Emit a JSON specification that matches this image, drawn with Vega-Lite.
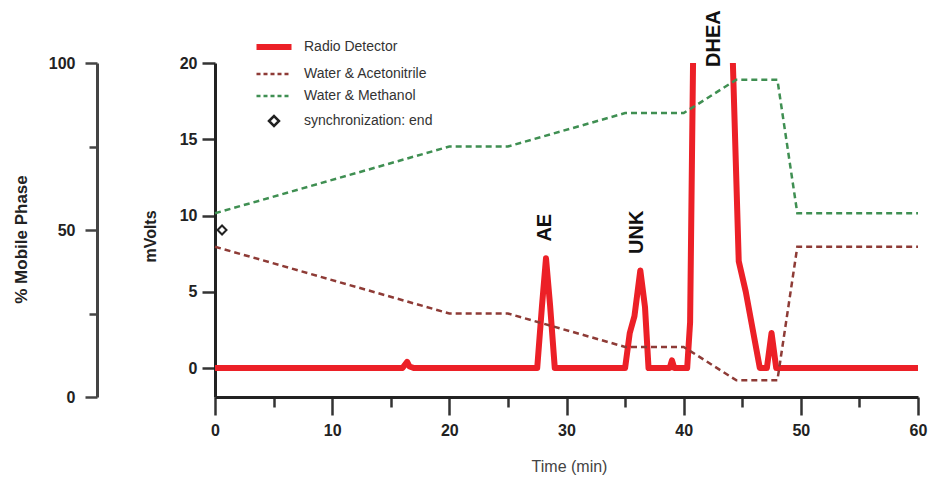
{
  "$schema": "https://vega.github.io/schema/vega-lite/v6.json",
  "width": 703,
  "height": 334,
  "autosize": {"type": "none"},
  "padding": {"left": 215, "top": 63, "right": 13, "bottom": 83},
  "background": "white",
  "datasets": {
    "radio": [
      {"series": "Radio Detector", "t": 0, "mv": 0},
      {"series": "Radio Detector", "t": 5, "mv": 0},
      {"series": "Radio Detector", "t": 10, "mv": 0},
      {"series": "Radio Detector", "t": 16.0, "mv": 0},
      {"series": "Radio Detector", "t": 16.4, "mv": 0.4},
      {"series": "Radio Detector", "t": 16.6, "mv": 0.1},
      {"series": "Radio Detector", "t": 17.0, "mv": 0},
      {"series": "Radio Detector", "t": 22.0, "mv": 0},
      {"series": "Radio Detector", "t": 27.5, "mv": 0},
      {"series": "Radio Detector", "t": 27.9, "mv": 4.0},
      {"series": "Radio Detector", "t": 28.25, "mv": 7.2},
      {"series": "Radio Detector", "t": 28.6, "mv": 4.1},
      {"series": "Radio Detector", "t": 29.0, "mv": 0},
      {"series": "Radio Detector", "t": 35.0, "mv": 0},
      {"series": "Radio Detector", "t": 35.4, "mv": 2.3},
      {"series": "Radio Detector", "t": 35.8, "mv": 3.4},
      {"series": "Radio Detector", "t": 36.3, "mv": 6.4},
      {"series": "Radio Detector", "t": 36.7, "mv": 4.0},
      {"series": "Radio Detector", "t": 37.0, "mv": 0},
      {"series": "Radio Detector", "t": 38.8, "mv": 0},
      {"series": "Radio Detector", "t": 39.0, "mv": 0.5},
      {"series": "Radio Detector", "t": 39.2, "mv": 0},
      {"series": "Radio Detector", "t": 40.3, "mv": 0},
      {"series": "Radio Detector", "t": 40.55, "mv": 3},
      {"series": "Radio Detector", "t": 40.8, "mv": 20},
      {"series": "Radio Detector", "t": 41.0, "mv": 40},
      {"series": "Radio Detector", "t": 44.0, "mv": 40},
      {"series": "Radio Detector", "t": 44.2, "mv": 20},
      {"series": "Radio Detector", "t": 44.7, "mv": 7.0},
      {"series": "Radio Detector", "t": 45.3, "mv": 5.0},
      {"series": "Radio Detector", "t": 46.5, "mv": 0},
      {"series": "Radio Detector", "t": 47.1, "mv": 0},
      {"series": "Radio Detector", "t": 47.5, "mv": 2.3},
      {"series": "Radio Detector", "t": 47.9, "mv": 0},
      {"series": "Radio Detector", "t": 60, "mv": 0}
    ],
    "phase": [
      {"series": "Water & Acetonitrile", "t": 0, "pct": 45},
      {"series": "Water & Acetonitrile", "t": 20, "pct": 25},
      {"series": "Water & Acetonitrile", "t": 25, "pct": 25},
      {"series": "Water & Acetonitrile", "t": 35, "pct": 15},
      {"series": "Water & Acetonitrile", "t": 40, "pct": 15},
      {"series": "Water & Acetonitrile", "t": 44.5, "pct": 5},
      {"series": "Water & Acetonitrile", "t": 48, "pct": 5},
      {"series": "Water & Acetonitrile", "t": 49.7, "pct": 45},
      {"series": "Water & Acetonitrile", "t": 60, "pct": 45},
      {"series": "Water & Methanol", "t": 0, "pct": 55},
      {"series": "Water & Methanol", "t": 20, "pct": 75},
      {"series": "Water & Methanol", "t": 25, "pct": 75},
      {"series": "Water & Methanol", "t": 35, "pct": 85},
      {"series": "Water & Methanol", "t": 40, "pct": 85},
      {"series": "Water & Methanol", "t": 44.5, "pct": 95},
      {"series": "Water & Methanol", "t": 48, "pct": 95},
      {"series": "Water & Methanol", "t": 49.7, "pct": 55},
      {"series": "Water & Methanol", "t": 60, "pct": 55}
    ],
    "sync": [
      {"series": "synchronization: end", "t": 0.6, "mv": 9.05}
    ],
    "labels": [
      {"label": "AE", "t": 28.15, "mv": 9.2},
      {"label": "UNK", "t": 36.0, "mv": 8.9},
      {"label": "DHEA", "t": 42.6, "mv": 21.6}
    ]
  },
  "layer": [
    {
      "layer": [
        {
          "data": {"name": "radio"},
          "mark": {"type": "line", "strokeWidth": 6, "clip": true, "strokeJoin": "round"},
          "encoding": {
            "x": {
              "field": "t", "type": "quantitative",
              "scale": {"domain": [0, 60], "nice": false, "zero": false},
              "axis": {
                "orient": "bottom",
                "values": [0, 5, 10, 15, 20, 25, 30, 35, 40, 45, 50, 55, 60],
                "labelExpr": "datum.value % 10 === 0 ? datum.label : ''",
                "tickSize": {"condition": {"test": "datum.value % 10 === 0", "value": 18}, "value": 10},
                "labelPadding": 7,
                "labelFlush": false,
                "title": "Time (min)",
                "titleFontSize": 16,
                "titleFontWeight": "normal",
                "titleColor": "#444",
                "titleX": 354,
                "titleY": 69,
                "titleBaseline": "middle",
                "titleAlign": "center"
              }
            },
            "y": {
              "field": "mv", "type": "quantitative",
              "scale": {"domain": [-1.9, 20], "nice": false, "zero": false},
              "axis": {
                "orient": "left",
                "values": [0, 5, 10, 15, 20],
                "tickSize": 13,
                "labelPadding": 5,
                "title": "mVolts",
                "titleFontSize": 16,
                "titleX": -65,
                "titleY": 173,
                "titleAngle": 270,
                "titleAlign": "center",
                "titleBaseline": "middle"
              }
            },
            "color": {
              "field": "series", "type": "nominal",
              "scale": {
                "domain": ["Radio Detector", "Water & Acetonitrile", "Water & Methanol", "synchronization: end"],
                "range": ["#ec2027", "#8e3b36", "#3f8f52", "#222222"]
              },
              "legend": {
                "title": null,
                "orient": "none",
                "legendX": 52,
                "legendY": -23,
                "padding": 0,
                "symbolSize": 100,
                "symbolStrokeWidth": 2,
                "rowPadding": 8,
                "labelOffset": 23,
                "labelFont": "Liberation Sans",
                "labelFontSize": 14,
                "labelColor": "#333",
                "encode": {
                  "symbols": {
                    "update": {
                      "shape": {"signal": "datum.value === 'synchronization: end' ? 'diamond' : 'M-3.5,0H3.5'"},
                      "strokeWidth": {"signal": "datum.value === 'Radio Detector' ? 6 : 2.5"},
                      "strokeDash": {"signal": "(datum.value === 'Water & Acetonitrile' || datum.value === 'Water & Methanol') ? [4, 3] : []"},
                      "stroke": {"signal": "scale('color', datum.value)"},
                      "fill": {"value": "transparent"},
                      "opacity": {"value": 1}
                    }
                  }
                }
              }
            }
          }
        },
        {
          "data": {"name": "sync"},
          "mark": {"type": "point", "shape": "diamond", "filled": false, "size": 80, "strokeWidth": 2, "opacity": 1},
          "encoding": {
            "x": {"field": "t", "type": "quantitative"},
            "y": {"field": "mv", "type": "quantitative"},
            "color": {"field": "series", "type": "nominal"}
          }
        },
        {
          "data": {"name": "labels"},
          "mark": {"type": "text", "angle": 270, "align": "center", "baseline": "middle", "font": "Liberation Sans", "fontWeight": "bold", "fontSize": 20, "color": "#111"},
          "encoding": {
            "x": {"field": "t", "type": "quantitative"},
            "y": {"field": "mv", "type": "quantitative"},
            "text": {"field": "label"}
          }
        }
      ]
    },
    {
      "data": {"name": "phase"},
      "mark": {"type": "line", "strokeWidth": 2.5, "strokeDash": [6, 4]},
      "encoding": {
        "x": {"field": "t", "type": "quantitative"},
        "y": {
          "field": "pct", "type": "quantitative",
          "scale": {"domain": [0, 100], "nice": false},
          "axis": {
            "orient": "left",
            "offset": 118,
            "values": [0, 25, 50, 75, 100],
            "labelExpr": "datum.value % 50 === 0 ? datum.label : ''",
            "tickSize": {"condition": {"test": "datum.value % 50 === 0", "value": 12}, "value": 8},
            "tickColor": "#444",
            "domainColor": "#444",
            "labelPadding": 10,
            "title": "% Mobile Phase",
            "titleFontSize": 17,
            "titleX": -76,
            "titleY": 176,
            "titleAngle": 270,
            "titleAlign": "center",
            "titleBaseline": "middle"
          }
        },
        "color": {"field": "series", "type": "nominal"}
      }
    }
  ],
  "resolve": {"scale": {"y": "independent"}, "axis": {"y": "independent"}},
  "config": {
    "view": {"stroke": null},
    "axis": {
      "grid": false,
      "tickWidth": 2.5,
      "tickColor": "#333",
      "domainColor": "#222",
      "domainWidth": 3,
      "labelFont": "Liberation Sans",
      "labelFontWeight": "bold",
      "labelFontSize": 16,
      "labelColor": "#222",
      "titleFont": "Liberation Sans",
      "titleFontWeight": "bold",
      "titleColor": "#222"
    }
  }
}
